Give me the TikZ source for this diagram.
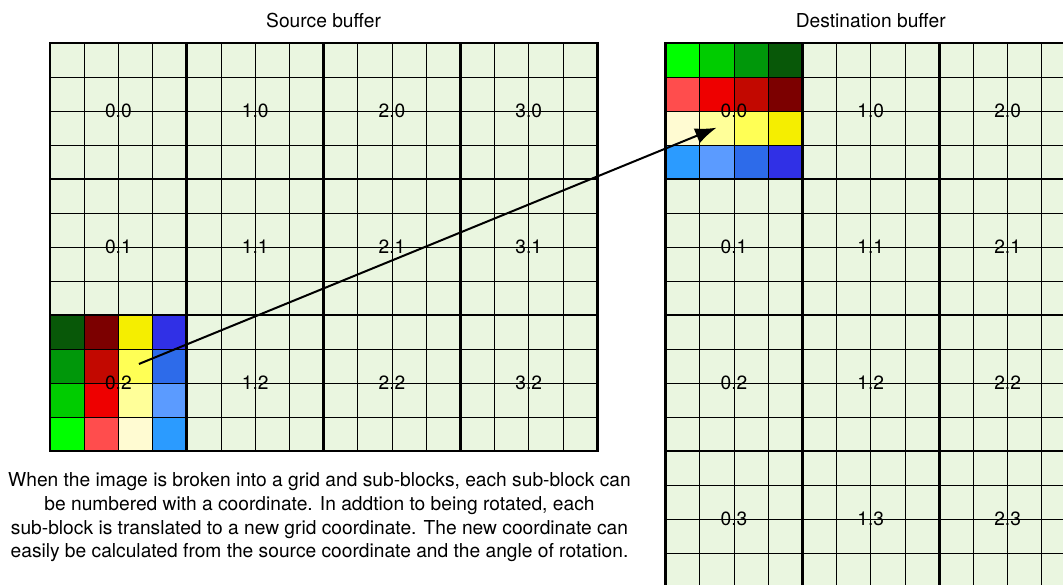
\documentclass[tikz,border=0pt]{standalone}
\usepackage{fontspec}
\setmainfont{TeX Gyre Heros}
\usetikzlibrary{arrows.meta,positioning}
\definecolor{Paper}{HTML}{EAF6E0}
\definecolor{Grn1}{HTML}{00FF00}
\definecolor{Grn2}{HTML}{00CC00}
\definecolor{Grn3}{HTML}{00970A}
\definecolor{Grn4}{HTML}{085808}
\definecolor{Red1}{HTML}{FF4D4D}
\definecolor{Red2}{HTML}{EE0000}
\definecolor{Red3}{HTML}{C20800}
\definecolor{Red4}{HTML}{7C0000}
\definecolor{Yel1}{HTML}{FFFBD2}
\definecolor{Yel2}{HTML}{FFFF99}
\definecolor{Yel3}{HTML}{FFFF55}
\definecolor{Yel4}{HTML}{F5EE00}
\definecolor{Blu1}{HTML}{2B9BFF}
\definecolor{Blu2}{HTML}{5B9BFF}
\definecolor{Blu3}{HTML}{2D6BEA}
\definecolor{Blu4}{HTML}{3030E6}
\tikzset{cellline/.style={draw=black,line width=.7pt},blockline/.style={draw=black,line width=2.2pt,line cap=rect},
  coord/.style={font=\fontsize{14.4}{17}\selectfont,inner sep=0pt},
  title/.style={font=\fontsize{14.4}{17}\selectfont},
  move/.style={-{Latex[length=16pt,width=12pt]},line width=1.5pt}}

\begin{document}
\begin{tikzpicture}[x=25.65pt,y=-25.5pt]
\useasboundingbox (-1.462,-1.265) rectangle (29.62,15.912);
\clip (-1.462,-1.265) rectangle (29.62,15.912);
% source buffer
\fill[Paper] (0,0) rectangle (16,12);
\foreach \hue [count=\i from 0] in {Grn,Red,Yel,Blu}
  \foreach \k in {1,...,4}
    \fill[\hue\k] (\i,12-\k) rectangle ++(1,1);
\foreach \x in {0,...,16} \draw[cellline] (\x,0) -- (\x,12);
\foreach \y in {0,...,12} \draw[cellline] (0,\y) -- (16,\y);
\foreach \x in {0,4,...,16} \draw[blockline] (\x,0) -- (\x,12);
\foreach \y in {0,4,...,12} \draw[blockline] (0,\y) -- (16,\y);
% destination buffer
\fill[Paper] (18,0) rectangle (30,16);
\foreach \hue [count=\i from 0] in {Grn,Red,Yel,Blu}
  \foreach \k in {1,...,4}
    \fill[\hue\k] (17+\k,\i) rectangle ++(1,1);
\foreach \x in {18,...,30} \draw[cellline] (\x,0) -- (\x,16);
\foreach \y in {0,...,16} \draw[cellline] (18,\y) -- (30,\y);
\foreach \x in {18,22,...,30} \draw[blockline] (\x,0) -- (\x,16);
\foreach \y in {0,4,...,16} \draw[blockline] (18,\y) -- (30,\y);
% block coordinates
\foreach \i in {0,...,3}
  \foreach \j in {0,...,2}
    \node[coord] (src-\i-\j) at (4*\i+2,4*\j+2) {\i.\j};
\foreach \i in {0,...,2}
  \foreach \j in {0,...,3}
    \node[coord] (dst-\i-\j) at (18+4*\i+2,4*\j+2) {\i.\j};
\node[title] (srctitle) at (8,-.66) {Source buffer};
\node[title] (dsttitle) at (24,-.66) {Destination buffer};
\node[align=center,font=\fontsize{14.4}{17.8}\selectfont] (note) at (7.88,13.95)
  {When the image is broken into a grid and sub-blocks, each sub-block can\\
   be numbered with a coordinate. In addtion to being rotated, each\\
   sub-block is translated to a new grid coordinate. The new coordinate can\\
   easily be calculated from the source coordinate and the angle of rotation.};
\coordinate (pick) at (2.6,9.44);
\coordinate (drop) at (19.49,2.49);
\draw[move] (pick) -- (drop);
\end{tikzpicture}
\end{document}
